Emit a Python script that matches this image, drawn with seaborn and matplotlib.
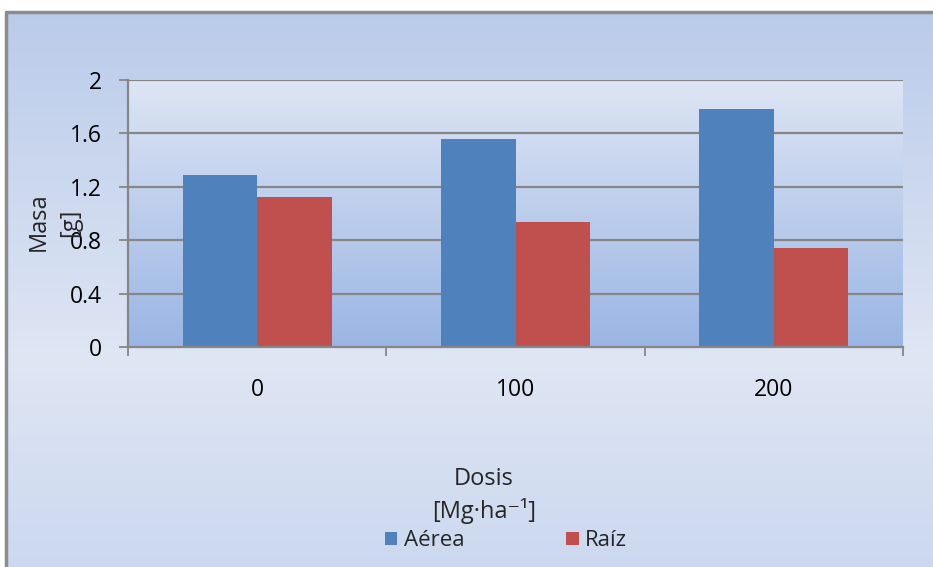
import numpy as np
import pandas as pd
import matplotlib
matplotlib.use("Agg")
import matplotlib.pyplot as plt
from matplotlib.colors import LinearSegmentedColormap
import seaborn as sns

# Data
doses = ["0", "100", "200"]
aerea = [1.29, 1.56, 1.78]
raiz = [1.12, 0.94, 0.74]
series_names = ["Aérea", "Raíz"]
series_colors = ["#4F81BD", "#C0504D"]
y_ticks = [0, 0.4, 0.8, 1.2, 1.6, 2]
y_tick_labels = ["0", "0.4", "0.8", "1.2", "1.6", "2"]

df = pd.DataFrame({
    "Dosis": doses * 2,
    "Masa": aerea + raiz,
    "Parte": [series_names[0]] * 3 + [series_names[1]] * 3,
})

sns.set_theme(style="white")
plt.rcParams["font.family"] = ["Open Sans", "DejaVu Sans"]

W, H = 933, 567
fig = plt.figure(figsize=(W / 100, H / 100), dpi=100)
fig.patch.set_facecolor("white")

# Outer chart-area gradient with border
bg = fig.add_axes([0, 0, 1, 1], zorder=-10)
bg.set_xlim(0, W)
bg.set_ylim(H, 0)
bg.axis("off")
outer_cmap = LinearSegmentedColormap.from_list(
    "outer", [(0, "#BACBEA"), (0.62, "#DFE6F4"), (1.0, "#CBD8EF")])
grad = np.linspace(0, 1, 256).reshape(-1, 1)
bg.imshow(grad, cmap=outer_cmap, aspect="auto",
          extent=[6, W + 5, H + 5, 12], interpolation="bicubic")
bg.plot([5.5, 5.5, W + 5], [H + 5, 11.5, 11.5], color="#8C8C8C", lw=2.5,
        solid_capstyle="butt")

# Plot area
x0, x1, y0, y1 = 128, 903, 347, 80
ax = fig.add_axes([x0 / W, 1 - y0 / H, (x1 - x0) / W, (y0 - y1) / H])
ax.set_facecolor("none")

inner_cmap = LinearSegmentedColormap.from_list("inner", ["#DEE5F4", "#9AB6E4"])
ax.imshow(grad, cmap=inner_cmap, aspect="auto", extent=[-0.5, 2.5, 0, 2],
          interpolation="bicubic", zorder=0)

sns.barplot(data=df, x="Dosis", y="Masa", hue="Parte", order=doses,
            hue_order=series_names, palette=series_colors, width=0.577,
            saturation=1, ax=ax, zorder=3, legend=True)
for p in ax.patches:
    p.set_edgecolor("none")

ax.set_xlim(-0.5, 2.5)
ax.set_ylim(0, 2)
ax.set_yticks(y_ticks)
ax.set_yticklabels(y_tick_labels)
for yv in y_ticks[1:]:
    ax.axhline(yv, color="#868686", lw=1.6, zorder=1)

for s in ["top", "right"]:
    ax.spines[s].set_visible(False)
for s in ["left", "bottom"]:
    ax.spines[s].set_visible(True)
    ax.spines[s].set_color("#868686")
    ax.spines[s].set_linewidth(1.6)
    ax.spines[s].set_zorder(4)

ax.tick_params(axis="y", length=6.5, width=1.3, color="#868686", pad=12,
               labelsize=16.5, labelcolor="#000000", left=True)
ax.set_xticks([-0.5, 0.5, 1.5, 2.5], minor=True)
ax.tick_params(axis="x", which="minor", length=6.5, width=1.3, color="#868686",
               bottom=True)
ax.tick_params(axis="x", which="major", length=0, pad=22, labelsize=16.5,
               labelcolor="#000000")

ax.set_xlabel("")
ax.set_ylabel("")
fig.text(484 / W, 1 - 479 / H, "Dosis", ha="center", va="center", fontsize=17)
fig.text(484 / W, 1 - 511 / H, "[Mg·ha⁻¹]", ha="center", va="center",
         fontsize=17)
fig.text(39 / W, 1 - 222 / H, "Masa", rotation=90, ha="center", va="center",
         fontsize=17)
fig.text(70 / W, 1 - 223 / H, "[g]", rotation=90, ha="center", va="center",
         fontsize=17)

handles, labels = ax.get_legend_handles_labels()
ax.get_legend().remove()
fig.legend(handles, labels, loc="center", bbox_to_anchor=(506 / W, 1 - 541 / H),
           ncol=2, frameon=False, fontsize=16, handlelength=0.55,
           handleheight=0.55, handletextpad=0.3, columnspacing=4.6)

fig.savefig("out.png", dpi=100)
